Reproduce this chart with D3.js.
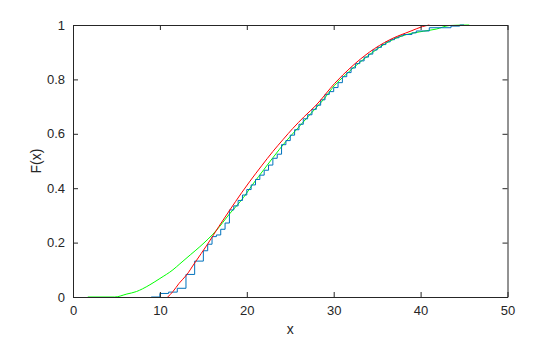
<!DOCTYPE html>
<html>
<head>
<meta charset="utf-8">
<script src="https://cdn.jsdelivr.net/npm/d3@7"></script>
<style>
  body { margin: 0; background: #fff; }
  svg { display: block; }
  text { font-family: "Liberation Sans", Arial, sans-serif; fill: #262626; }
</style>
</head>
<body>
<div id="chart"></div>
<script>
// x ticks and y ticks
const xTicks = [0, 10, 20, 30, 40, 50];
const yTicks = [0, 0.2, 0.4, 0.6, 0.8, 1];

// empirical CDF (blue steps): jump positions and values after jump
const ecdfX = [9, 10, 11, 12, 13, 14, 15, 15.5, 16, 16.5, 17, 17.5, 18, 18.5, 19, 19.5, 20, 20.5, 21, 21.5,
  22, 22.5, 23, 23.5, 24, 24.5, 25, 25.5, 26, 26.5, 27, 27.5, 28, 28.5, 29, 29.5, 30, 30.5, 31, 31.5,
  32, 32.5, 33, 33.5, 34, 34.5, 35, 35.5, 36, 36.5, 37, 37.5, 38, 39, 39.5, 41, 43.5, 44.5, 45];
const ecdfY = [0, 0.013, 0.018, 0.032, 0.083, 0.132, 0.170, 0.194, 0.222, 0.228, 0.249, 0.272, 0.32, 0.335, 0.355, 0.375, 0.395, 0.412, 0.432, 0.448,
  0.466, 0.485, 0.51, 0.525, 0.56, 0.575, 0.595, 0.615, 0.635, 0.655, 0.67, 0.69, 0.705, 0.725, 0.745, 0.755, 0.77, 0.788, 0.81, 0.825,
  0.842, 0.858, 0.868, 0.882, 0.893, 0.908, 0.918, 0.928, 0.938, 0.946, 0.953, 0.96, 0.965, 0.971, 0.978, 0.99, 0.996, 1, 1];

// fitted CDF (red)
const fitX = [10.9, 11.5, 12.2, 13.07, 14.0, 15.5, 16.8, 18.05, 19.4, 20.3, 21.7, 23, 24.2, 25.3, 26.6, 28, 30.1, 32, 34.1, 36.4, 38.9, 40.2, 41];
const fitY = [0, 0.02, 0.05, 0.081, 0.125, 0.195, 0.26, 0.32, 0.383, 0.423, 0.482, 0.535, 0.58, 0.62, 0.663, 0.706, 0.785, 0.845, 0.90, 0.945, 0.978, 0.994, 1];

// second CDF (green)
const smoothX = [1.7, 4.8, 6.2, 7.3, 8.0, 8.85, 10, 11.5, 12.3, 13.5, 14.6, 16.5, 18, 19.6, 20.7, 22, 23, 24.5, 25.9, 27.3,
  28.8, 30.1, 31.3, 32.9, 34.5, 36.4, 38.4, 40.3, 41.8, 43.3, 45.6];
const smoothY = [0, 0, 0.011, 0.02, 0.03, 0.045, 0.068, 0.10, 0.122, 0.155, 0.185, 0.245, 0.305, 0.365, 0.415, 0.47, 0.512, 0.572, 0.622, 0.672,
  0.725, 0.778, 0.815, 0.86, 0.90, 0.94, 0.965, 0.977, 0.985, 0.998, 1];

const width = 560, height = 337;
const mLeft = 73, mRight = 507.5, mTop = 25, mBottom = 297;

const svg = d3.select("#chart").append("svg")
  .attr("width", width)
  .attr("height", height);

const x = d3.scaleLinear().domain([0, 50]).range([mLeft, mRight]);
const y = d3.scaleLinear().domain([0, 1]).range([mBottom, mTop]);

const pts = (xs, ys) => xs.map((v, i) => [v, ys[i]]);

const line = d3.line().x(d => x(d[0])).y(d => y(d[1])).curve(d3.curveMonotoneX);
const stepLine = d3.line().x(d => x(d[0])).y(d => y(d[1])).curve(d3.curveStepAfter);

const plot = svg.append("g");

plot.append("path")
  .datum(pts(smoothX, smoothY))
  .attr("fill", "none")
  .attr("stroke", "#00ff00")
  .attr("stroke-width", 1)
  .attr("d", line);

plot.append("path")
  .datum(pts(ecdfX, ecdfY))
  .attr("fill", "none")
  .attr("stroke", "#0072bd")
  .attr("stroke-width", 1)
  .attr("d", stepLine);

plot.append("path")
  .datum(pts(fitX, fitY))
  .attr("fill", "none")
  .attr("stroke", "#ff0000")
  .attr("stroke-width", 1)
  .attr("d", line);

// frame with inward ticks on all four sides
const axisColor = "#262626";
const tickLen = 5;

const xAxisB = d3.axisBottom(x).tickValues(xTicks).tickSizeInner(-tickLen).tickSizeOuter(0).tickPadding(9);
const xAxisT = d3.axisTop(x).tickValues(xTicks).tickSizeInner(-tickLen).tickSizeOuter(0).tickFormat("");
const yAxisL = d3.axisLeft(y).tickValues(yTicks).tickSizeInner(-tickLen).tickSizeOuter(0).tickPadding(8).tickFormat(d3.format("~g"));
const yAxisR = d3.axisRight(y).tickValues(yTicks).tickSizeInner(-tickLen).tickSizeOuter(0).tickFormat("");

function styleAxis(g) {
  g.select(".domain").attr("stroke", axisColor);
  g.selectAll(".tick line").attr("stroke", axisColor);
  g.selectAll(".tick text").attr("fill", axisColor).style("font-size", "13px")
    .style("font-family", "'Liberation Sans', Arial, sans-serif");
}

svg.append("g").attr("transform", `translate(0,${mBottom})`).call(xAxisB).call(styleAxis);
svg.append("g").attr("transform", `translate(0,${mTop})`).call(xAxisT).call(styleAxis);
svg.append("g").attr("transform", `translate(${mLeft},0)`).call(yAxisL).call(styleAxis);
svg.append("g").attr("transform", `translate(${mRight},0)`).call(yAxisR).call(styleAxis);

svg.append("text")
  .attr("x", (mLeft + mRight) / 2)
  .attr("y", 334)
  .attr("text-anchor", "middle")
  .style("font-size", "14px")
  .text("x");

svg.append("text")
  .attr("transform", `translate(41,${(mTop + mBottom) / 2}) rotate(-90)`)
  .attr("text-anchor", "middle")
  .style("font-size", "14px")
  .text("F(x)");
</script>
</body>
</html>
